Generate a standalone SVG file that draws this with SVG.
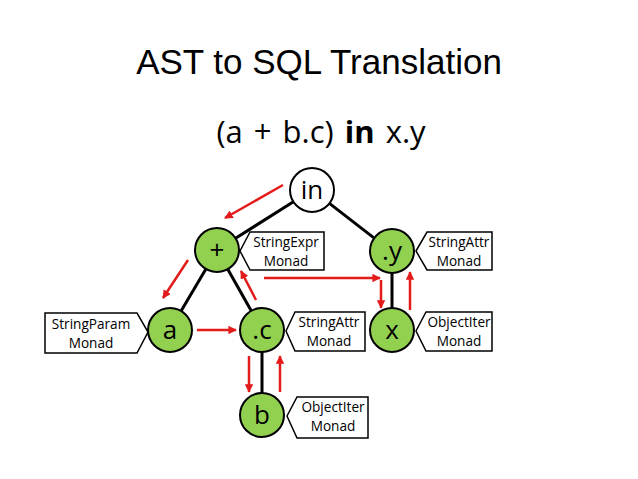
<svg xmlns="http://www.w3.org/2000/svg" width="638" height="479" viewBox="0 0 638 479">
<defs>
<style>
.title{font-family:"Liberation Sans",Arial,sans-serif;font-size:35px;fill:#000}
.sub{font-family:"Open Sans","Noto Sans",sans-serif;font-size:31px;fill:#000;word-spacing:3px}
.node{stroke:#000;stroke-width:2}
.green{fill:#92D050}
.white{fill:#fff}
.nt{font-family:"Open Sans","Noto Sans",sans-serif;font-size:26px;fill:#000;text-anchor:middle}
.lab{fill:#fff;stroke:#000;stroke-width:1.5}
.lt{font-family:"Open Sans","Noto Sans",sans-serif;font-size:13.6px;fill:#000;text-anchor:middle}
.edge{stroke:#000;stroke-width:3;fill:none}
.red{stroke:#E31B1B;stroke-width:2.5;fill:none;marker-end:url(#ah)}
</style>
<marker id="ah" viewBox="0 0 10 10" refX="9" refY="5" markerWidth="3.4" markerHeight="3.4" orient="auto" markerUnits="strokeWidth">
<path d="M0,0 L10,5 L0,10 z" fill="#E31B1B"/>
</marker>
</defs>
<rect width="638" height="479" fill="#fff"/>
<text class="title" x="319" y="74" text-anchor="middle">AST to SQL Translation</text>
<text class="sub" x="321" y="143" text-anchor="middle">(a + b.c) <tspan font-weight="bold">in</tspan> x.y</text>

<g id="connectors">
<path class="edge" d="M293.4,201.7 L235.6,238.3"/>
<path class="edge" d="M329.4,203.4 L373.6,237.6"/>
<path class="edge" d="M205.9,269 L181.1,311"/>
<path class="edge" d="M227.8,269.2 L251.2,310.8"/>
<path class="edge" d="M262,352 L262,393"/>
<path class="edge" d="M392,273 L392,308"/>
<path class="red" d="M283,185 L225,218"/>
<path class="red" d="M188,260 L163,298"/>
<path class="red" d="M197,330 L236,330"/>
<path class="red" d="M256,300 L241,271"/>
<path class="red" d="M264,278 L380,278"/>
<path class="red" d="M381,280 L381,308"/>
<path class="red" d="M410,310 L410,272"/>
<path class="red" d="M249,356 L249,392"/>
<path class="red" d="M280,392 L280,356"/>
</g>

<g id="node-in">
<circle class="node white" cx="312" cy="190" r="22"/>
<text class="nt" x="312" y="199">in</text>
</g>
<g id="node-plus">
<circle class="node green" cx="217" cy="250" r="22"/>
<text class="nt" x="217" y="259">+</text>
</g>
<g id="node-y">
<circle class="node green" cx="392" cy="251" r="22"/>
<text class="nt" x="392" y="260">.y</text>
</g>
<g id="node-a">
<circle class="node green" cx="170" cy="330" r="22"/>
<text class="nt" x="170" y="339">a</text>
</g>
<g id="node-c">
<circle class="node green" cx="262" cy="330" r="22"/>
<text class="nt" x="262" y="339">.c</text>
</g>
<g id="node-x">
<circle class="node green" cx="392" cy="330" r="22"/>
<text class="nt" x="392" y="339">x</text>
</g>
<g id="node-b">
<circle class="node green" cx="262" cy="415" r="22"/>
<text class="nt" x="262" y="424">b</text>
</g>

<g id="label-plus">
<polygon class="lab" points="240,251 250,232 324,232 324,270 250,270"/>
<text class="lt" x="286" y="247">StringExpr</text>
<text class="lt" x="286" y="266">Monad</text>
</g>
<g id="label-y">
<polygon class="lab" points="416,251 427,232 492,232 492,270 427,270"/>
<text class="lt" x="459" y="247">StringAttr</text>
<text class="lt" x="459" y="266">Monad</text>
</g>
<g id="label-a">
<polygon class="lab" points="45,313 137,313 148,332 137,353 45,353"/>
<text class="lt" x="91" y="329">StringParam</text>
<text class="lt" x="91" y="348">Monad</text>
</g>
<g id="label-c">
<polygon class="lab" points="286,331 295,312 365,312 365,351 295,351"/>
<text class="lt" x="329" y="327">StringAttr</text>
<text class="lt" x="329" y="346">Monad</text>
</g>
<g id="label-x">
<polygon class="lab" points="416,331 426,312 492,312 492,351 426,351"/>
<text class="lt" x="459" y="327">ObjectIter</text>
<text class="lt" x="459" y="346">Monad</text>
</g>
<g id="label-b">
<polygon class="lab" points="287,416 297,397 368,397 368,438 297,438"/>
<text class="lt" x="333" y="412">ObjectIter</text>
<text class="lt" x="333" y="431">Monad</text>
</g>
</svg>
